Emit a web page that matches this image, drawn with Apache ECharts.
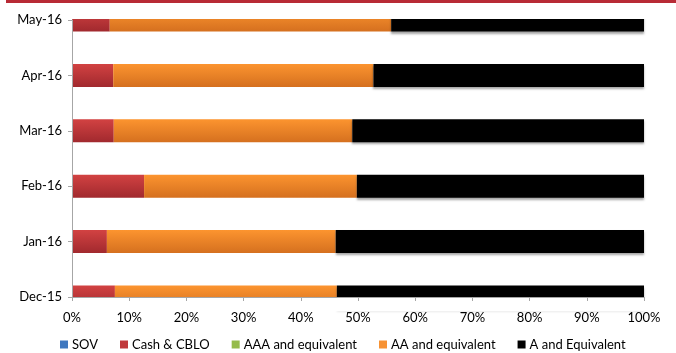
<!DOCTYPE html>
<html>
<head>
<meta charset="utf-8">
<script src="https://cdn.jsdelivr.net/npm/echarts@6/dist/echarts.min.js"></script>
<style>html,body{margin:0;padding:0;background:#fff;}#c{width:676px;height:353px;}</style>
</head>
<body>
<div id="c"></div>
<script>
const categories = ['Dec-15', 'Jan-16', 'Feb-16', 'Mar-16', 'Apr-16', 'May-16'];
const sov = [0, 0, 0, 0, 0, 0];
const cashCblo = [7.5, 6.1, 12.6, 7.3, 7.2, 6.6];
const aaa = [0, 0, 0, 0, 0, 0];
const aa = [38.8, 40.0, 37.2, 41.7, 45.5, 49.2];
const aEquiv = [53.7, 53.9, 50.2, 51.0, 47.3, 44.2];
const xTicks = [0, 10, 20, 30, 40, 50, 60, 70, 80, 90, 100];

const chart = echarts.init(document.getElementById('c'));
const FONT = 'Lato';
const shadow = {shadowColor: 'rgba(0,0,0,0.35)', shadowBlur: 2, shadowOffsetY: 2};
function grad(top, bottom) {
  return new echarts.graphic.LinearGradient(0, 0, 0, 1, [{offset: 0, color: top}, {offset: 1, color: bottom}]);
}
function s(name, data, color) {
  return {
    name: name, type: 'bar', stack: 'total', data: data, barWidth: 23, z: 2,
    itemStyle: Object.assign({color: color}, shadow),
    emphasis: {disabled: true}
  };
}
chart.setOption({
  animation: false,
  textStyle: {fontFamily: FONT},
  grid: {left: 72, right: 32, top: 20, bottom: 56, containLabel: false},
  xAxis: {
    type: 'value', min: xTicks[0], max: xTicks[xTicks.length - 1], interval: 10, z: 10,
    axisLine: {show: true, lineStyle: {color: '#a6a6a6'}},
    axisTick: {show: true, length: 4, lineStyle: {color: '#a6a6a6'}},
    splitLine: {show: false},
    axisLabel: {formatter: '{value}%', color: '#000', fontSize: 13, margin: 14, fontFamily: FONT}
  },
  yAxis: {
    type: 'category', data: categories, boundaryGap: false, z: 10,
    axisLine: {show: true, lineStyle: {color: '#a6a6a6'}},
    axisTick: {show: true, length: 4, lineStyle: {color: '#a6a6a6'}},
    axisLabel: {color: '#000', fontSize: 13, margin: 10, fontFamily: FONT}
  },
  legend: {
    top: 337, left: 55, itemWidth: 8, itemHeight: 8, itemGap: 22,
    icon: 'rect', padding: [1, 5, 1, 5],
    textStyle: {fontSize: 13, color: '#000', fontFamily: FONT, padding: [0, 0, 0, -1]},
    data: [
      {name: 'SOV', itemStyle: {color: '#3f78bf'}},
      {name: 'Cash & CBLO', itemStyle: {color: '#c0393b'}},
      {name: 'AAA and equivalent', itemStyle: {color: '#95bb4a'}},
      {name: 'AA and equivalent', itemStyle: {color: '#f79233'}},
      {name: 'A and Equivalent', itemStyle: {color: '#000000'}}
    ]
  },
  series: [
    s('SOV', sov, '#3f78bf'),
    s('Cash & CBLO', cashCblo, grad('#d24242', '#a1292e')),
    s('AAA and equivalent', aaa, '#95bb4a'),
    s('AA and equivalent', aa, grad('#fc942f', '#d5701f')),
    s('A and Equivalent', aEquiv, '#000000')
  ]
});

// The original clips the half bars at the first and last category to the plot area.
const topY = chart.convertToPixel({yAxisIndex: 0}, categories[categories.length - 1]);
const botY = chart.convertToPixel({yAxisIndex: 0}, categories[0]);
const W = chart.getWidth();
chart.setOption({
  graphic: [
    {type: 'rect', z: 5, silent: true, shape: {x: 0, y: 0, width: W, height: topY - 1}, style: {fill: '#fff'}},
    {type: 'rect', z: 5, silent: true, shape: {x: 0, y: botY + 0.5, width: W, height: 14}, style: {fill: '#fff'}},
    {type: 'rect', z: 6, silent: true, shape: {x: 6, y: 0, width: W - 6, height: 3}, style: {fill: '#b82a35'}}
  ]
});
</script>
</body>
</html>
